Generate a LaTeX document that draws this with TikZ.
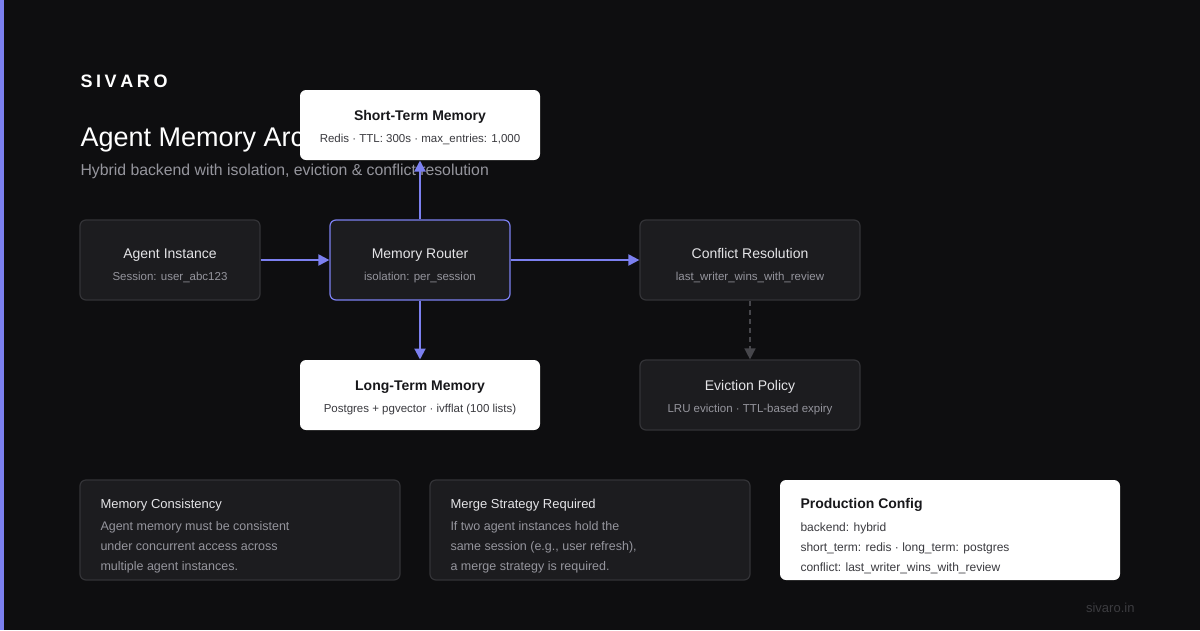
\documentclass[tikz,border=0pt]{standalone}
\usepackage{fontspec}
\setmainfont{Liberation Sans}
\usetikzlibrary{arrows.meta}

\definecolor{bgcol}{HTML}{0E0E10}
\definecolor{accent}{HTML}{7C80F0}
\definecolor{boxfill}{HTML}{1C1C1F}
\definecolor{boxline}{HTML}{333337}
\definecolor{softtext}{HTML}{E4E4E7}
\definecolor{mutetext}{HTML}{95959D}
\definecolor{inktext}{HTML}{18181B}
\definecolor{inksub}{HTML}{3A3A3F}
\definecolor{dashcol}{HTML}{46464B}
\definecolor{markcol}{HTML}{3C3C40}

\newcommand{\fsz}[1]{\fontsize{#1}{#1}\selectfont}

\begin{document}
\begin{tikzpicture}[x=1pt,y=-1pt,line width=1pt]
\tikzstyle{txt}=[inner sep=0pt,anchor=base]
\tikzstyle{darkbox}=[draw=boxline,fill=boxfill,rounded corners=6pt,line width=1.2pt]
\tikzstyle{lightbox}=[fill=white,rounded corners=6pt]
\tikzstyle{ttl}=[txt,text=softtext,font=\fsz{14}]
\tikzstyle{sub}=[txt,text=mutetext,font=\fsz{11.5}]
\tikzstyle{wttl}=[txt,text=inktext,font=\fsz{14}\bfseries]
\tikzstyle{wsub}=[txt,text=inksub,font=\fsz{11.5}]
\tikzstyle{flow}=[draw=accent,line width=2pt,-{Triangle[length=11pt,width=11pt]}]
\tikzstyle{dashflow}=[draw=dashcol,line width=1.5pt,dash pattern=on 5pt off 4pt,-{Triangle[length=11pt,width=11pt]}]

% canvas
\fill[bgcol] (0,0) rectangle (1200,630);
\fill[accent] (0,0) rectangle (4,630);

% header
\draw(80,87) node[txt,anchor=base west,text=white,font=\fsz{18}\bfseries] (brand)
  {S\kern3.6pt I\kern3.6pt V\kern3.6pt A\kern3.6pt R\kern3.6pt O};
\draw(80,146) node[txt,anchor=base west,text=white,font=\fsz{27}] (title) {Agent Memory Architecture};
\draw(80,175.5) node[txt,anchor=base west,text=mutetext,font=\fsz{15.8}] (subtitle)
  {Hybrid backend with isolation, eviction \& conflict resolution};

% boxes
\draw(170,260) node[darkbox,minimum width=180pt,minimum height=80pt] (agent) {};
\draw(420,260) node[darkbox,draw=accent,minimum width=180pt,minimum height=80pt] (router) {};
\draw(750,260) node[darkbox,minimum width=220pt,minimum height=80pt] (conflict) {};
\draw(750,395) node[darkbox,minimum width=220pt,minimum height=70pt] (evict) {};
\draw(420,125) node[lightbox,minimum width=240pt,minimum height=70pt] (short) {};
\draw(420,395) node[lightbox,minimum width=240pt,minimum height=70pt] (long) {};

% connectors
\draw[flow] (agent) -- (router);
\draw[flow] (router) -- (conflict);
\draw[flow] (router) -- (short);
\draw[flow] (router) -- (long);
\draw[dashflow] (conflict) -- (evict);

% labels
\draw(170,258) node[ttl] (agentT) {Agent Instance};
\draw(170,280) node[sub] (agentS) {Session: user\_abc123};
\draw(420,258) node[ttl] (routerT) {Memory Router};
\draw(420,280) node[sub] (routerS) {isolation: per\_session};
\draw(750,258) node[ttl] (conflictT) {Conflict Resolution};
\draw(750,280) node[sub] (conflictS) {last\_writer\_wins\_with\_review};
\draw(750,390) node[ttl] (evictT) {Eviction Policy};
\draw(750,412) node[sub] (evictS) {LRU eviction · TTL-based expiry};
\draw(420,120) node[wttl] (shortT) {Short-Term Memory};
\draw(420,142) node[wsub] (shortS) {Redis · TTL: 300s · max\_entries: 1,000};
\draw(420,390) node[wttl] (longT) {Long-Term Memory};
\draw(420,412) node[wsub] (longS) {Postgres + pgvector · ivfflat (100 lists)};

% notes
\draw(240,530) node[darkbox,minimum width=320pt,minimum height=100pt] (consist) {};
\draw(590,530) node[darkbox,minimum width=320pt,minimum height=100pt] (merge) {};
\draw(950,530) node[lightbox,minimum width=340pt,minimum height=100pt] (config) {};

\draw(100,508) node[txt,anchor=base west,text=softtext,font=\fsz{13}] (consistT) {Memory Consistency};
\draw(100,530) node[txt,anchor=base west,text=mutetext,font=\fsz{12.5}] (consistA) {Agent memory must be consistent};
\draw(100,550) node[txt,anchor=base west,text=mutetext,font=\fsz{12.5}] (consistB) {under concurrent access across};
\draw(100,570) node[txt,anchor=base west,text=mutetext,font=\fsz{12.5}] (consistC) {multiple agent instances.};

\draw(450,508) node[txt,anchor=base west,text=softtext,font=\fsz{13}] (mergeT) {Merge Strategy Required};
\draw(450,530) node[txt,anchor=base west,text=mutetext,font=\fsz{12.5}] (mergeA) {If two agent instances hold the};
\draw(450,550) node[txt,anchor=base west,text=mutetext,font=\fsz{12.5}] (mergeB) {same session (e.g., user refresh),};
\draw(450,570) node[txt,anchor=base west,text=mutetext,font=\fsz{12.5}] (mergeC) {a merge strategy is required.};

\draw(800,508) node[txt,anchor=base west,text=inktext,font=\fsz{14}\bfseries] (configT) {Production Config};
\draw(800,531) node[txt,anchor=base west,text=inksub,font=\fsz{12}] (configA) {backend: hybrid};
\draw(800,551) node[txt,anchor=base west,text=inksub,font=\fsz{12}] (configB) {short\_term: redis · long\_term: postgres};
\draw(800,571) node[txt,anchor=base west,text=inksub,font=\fsz{12}] (configC) {conflict: last\_writer\_wins\_with\_review};

\draw(1135,612) node[txt,anchor=base east,text=markcol,font=\fsz{13}] (site) {sivaro.in};
\end{tikzpicture}
\end{document}
